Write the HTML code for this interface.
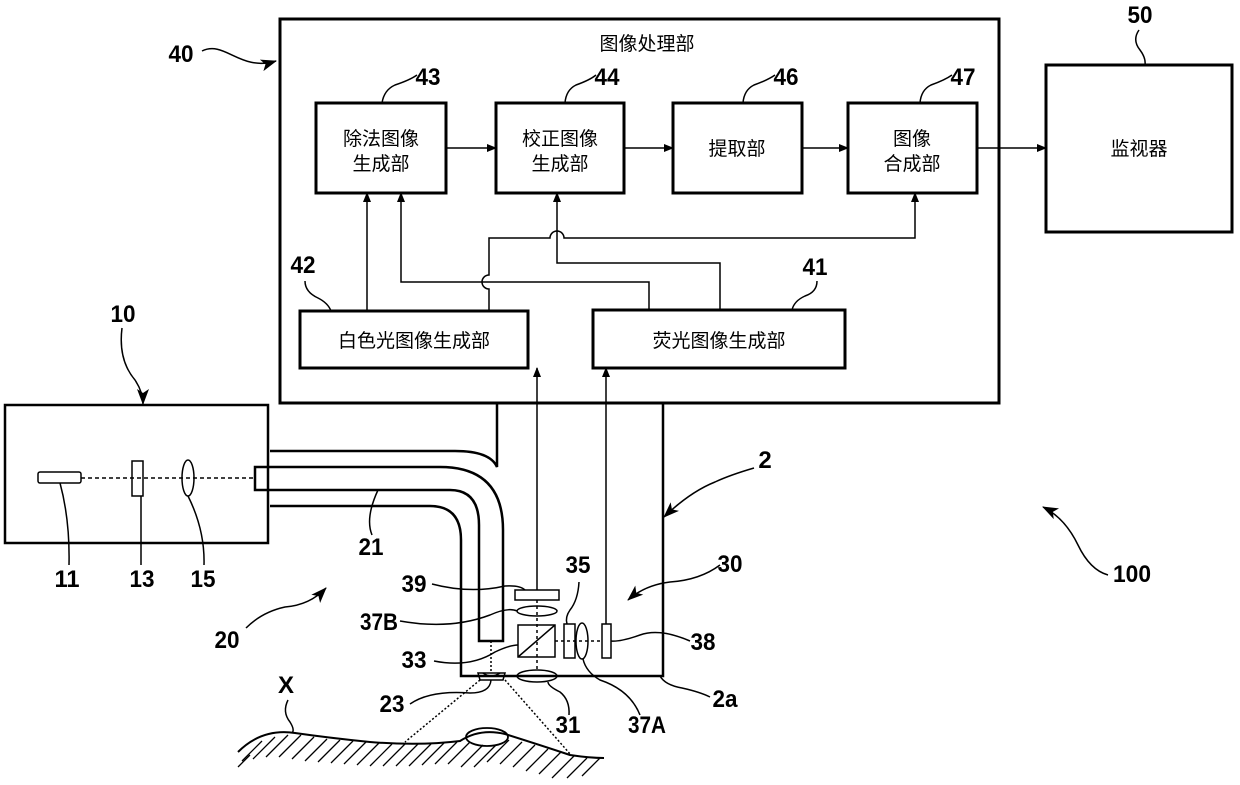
<!DOCTYPE html>
<html><head><meta charset="utf-8"><style>
html,body{margin:0;padding:0;background:#fff;}
svg{display:block;}
.n{font-family:"Liberation Sans",sans-serif;font-size:24px;font-weight:bold;fill:#000;}
.c{font-family:"Liberation Sans","Noto Sans CJK SC",sans-serif;font-size:19px;fill:#000;}
</style></head><body>
<svg width="1240" height="785" viewBox="0 0 1240 785" xmlns="http://www.w3.org/2000/svg">
<defs>
<marker id="a" markerWidth="10" markerHeight="10" refX="9" refY="5" orient="auto" markerUnits="userSpaceOnUse"><path d="M0,1 L10,5 L0,9 Z" fill="#000"/></marker>
<marker id="b" markerWidth="16" markerHeight="14" refX="15" refY="7" orient="auto" markerUnits="userSpaceOnUse"><path d="M0,1 L16,7 L0,13 L4,7 Z" fill="#000"/></marker>
</defs>
<g fill="none" stroke="#000">
<rect x="280" y="19" width="719" height="384" stroke-width="3"/>
<rect x="316" y="103" width="130" height="90" stroke-width="3"/>
<rect x="496" y="103" width="128" height="90" stroke-width="3"/>
<rect x="673" y="103" width="129" height="90" stroke-width="3"/>
<rect x="848" y="103" width="129" height="90" stroke-width="3"/>
<rect x="300" y="311" width="228" height="57" stroke-width="3"/>
<rect x="593" y="310" width="252" height="58" stroke-width="3"/>
<rect x="1046" y="65" width="186" height="167" stroke-width="3"/>
<rect x="5" y="405" width="263" height="138" stroke-width="2.5"/>
<g stroke-width="1.5">
<line x1="446" y1="148" x2="496" y2="148" marker-end="url(#a)"/>
<line x1="624" y1="148" x2="673" y2="148" marker-end="url(#a)"/>
<line x1="802" y1="148" x2="848" y2="148" marker-end="url(#a)"/>
<line x1="977" y1="148" x2="1046" y2="148" marker-end="url(#a)"/>
<line x1="367" y1="311" x2="367" y2="193" marker-end="url(#a)"/>
<path d="M649,310 V282 H401 V193" marker-end="url(#a)"/>
<path d="M489,311 V289 A7,7 0 0 1 489,275 V238 H550 A7,7 0 0 1 564,238 H915 V193" marker-end="url(#a)"/>
<path d="M720,310 V263 H557 V193" marker-end="url(#a)"/>
<line x1="537" y1="590" x2="537" y2="368" marker-end="url(#a)"/>
<line x1="606" y1="624" x2="606" y2="368" marker-end="url(#a)"/>
</g>
<g stroke-width="2.5">
<path d="M497,403 V467 Q490,451 455,451 H270"/>
<path d="M270,506 H430 Q461,506 461,540 V676 H663 V403"/>
<path d="M255,467 H440 Q503,467 503,530 V641 H479 V525 Q479,490 450,490 H255 Z"/>
</g>
<g stroke-width="1.5">
<rect x="38" y="472" width="43" height="11" rx="2"/>
<rect x="132" y="461" width="11" height="35"/>
<ellipse cx="188" cy="478" rx="6" ry="18"/>
<line x1="81" y1="478" x2="255" y2="478" stroke-dasharray="4,3"/>
<rect x="515" y="590" width="44" height="10"/>
<ellipse cx="537" cy="611" rx="20" ry="5"/>
<rect x="518" y="625" width="37" height="32"/>
<line x1="518" y1="657" x2="555" y2="625"/>
<rect x="564" y="624" width="11" height="34"/>
<ellipse cx="582" cy="641" rx="6" ry="18"/>
<rect x="602" y="624" width="9" height="34"/>
<ellipse cx="537" cy="676" rx="20" ry="6"/>
<path d="M478,673 H505 L503,680 H480 Z"/>
<path d="M483,673 Q491,679 500,673"/>
<line x1="537" y1="600" x2="537" y2="670" stroke-dasharray="3,3"/>
<line x1="555" y1="641" x2="602" y2="641" stroke-dasharray="3,3"/>
<line x1="491" y1="641" x2="491" y2="673" stroke-dasharray="2,2"/>
<line x1="480" y1="680" x2="405" y2="742" stroke-dasharray="2,2"/>
<line x1="505" y1="680" x2="571" y2="755" stroke-dasharray="2,2"/>
</g>
<path d="M238,752 Q262,728 295,733 Q330,738 370,742 Q420,746 460,741 Q480,728 505,734 Q540,745 570,755 Q590,758 604,758" stroke-width="2"/>
<ellipse cx="487" cy="737" rx="21" ry="9" stroke-width="1.8"/>
<g stroke-width="1.3">
<path d="M250,755l-12,12M262,741l-20,20M275,737l-22,22M288,735l-22,22M301,735l-22,22M314,737l-22,22M327,739l-22,22M340,740l-22,22M353,741l-22,22M366,742l-22,22M379,743l-22,22M392,744l-22,22M405,744l-22,22M418,744l-22,22M431,744l-22,22M444,743l-22,22M457,742l-22,22M470,742l-22,22M483,745l-22,22M496,745l-22,22M509,740l-22,22M522,742l-22,22M535,745l-22,22M548,749l-22,22M561,752l-22,22M574,756l-22,22M587,758l-20,20M600,758l-18,18"/>
</g>
<g stroke-width="1.5">
<path d="M202,51 C225,40 240,72 276,61" marker-end="url(#b)"/>
<path d="M122,328 Q118,360 135,380 Q143,392 143,404" marker-end="url(#b)"/>
<path d="M1139,30 Q1132,40 1140,50 Q1146,58 1145,65"/>
<path d="M417,75 Q410,80 395,85 Q384,90 382,103"/>
<path d="M596,75 Q590,80 576,85 Q566,90 565,103"/>
<path d="M775,75 Q768,80 754,85 Q744,90 743,103"/>
<path d="M952,75 Q945,80 931,85 Q921,90 920,103"/>
<path d="M305,281 Q305,292 318,298 Q328,303 331,311"/>
<path d="M817,281 Q817,292 805,296 Q794,301 792,310"/>
<path d="M754,468 Q730,475 715,482 Q690,492 664,517" marker-end="url(#b)"/>
<path d="M720,565 Q700,580 670,582 Q645,585 628,600" marker-end="url(#b)"/>
<path d="M1108,575 Q1090,570 1078,545 Q1065,518 1043,507" marker-end="url(#b)"/>
<path d="M246,628 Q262,612 285,607 Q310,605 326,588" marker-end="url(#b)"/>
<path d="M69,565 Q70,520 60,483"/>
<path d="M141,565 V496"/>
<path d="M204,565 Q205,530 188,496"/>
<path d="M372,535 Q365,518 378,490"/>
<path d="M432,584 Q470,594 505,586 Q520,585 525,590"/>
<path d="M400,621 Q450,630 490,615 Q508,607 517,611"/>
<path d="M434,661 Q470,668 495,652 Q510,645 518,645"/>
<path d="M410,704 Q430,690 470,693 Q490,693 491,680"/>
<path d="M579,582 Q578,600 570,610 Q565,617 567,624"/>
<path d="M690,641 Q660,628 640,635 Q620,642 611,641"/>
<path d="M569,715 Q570,700 560,692 Q548,686 548,682"/>
<path d="M640,715 Q630,690 600,680 Q586,672 583,659"/>
<path d="M710,697 Q700,692 682,688 Q665,685 660,676"/>
<path d="M288,700 Q282,712 290,722 Q295,730 292,733"/>
</g>
</g>
<text class="c" x="647" y="50" text-anchor="middle">图像处理部</text>
<text class="c" x="381" y="145" text-anchor="middle">除法图像</text>
<text class="c" x="381" y="170" text-anchor="middle">生成部</text>
<text class="c" x="560" y="145" text-anchor="middle">校正图像</text>
<text class="c" x="560" y="170" text-anchor="middle">生成部</text>
<text class="c" x="737" y="155" text-anchor="middle">提取部</text>
<text class="c" x="912" y="145" text-anchor="middle">图像</text>
<text class="c" x="912" y="170" text-anchor="middle">合成部</text>
<text class="c" x="414" y="347" text-anchor="middle">白色光图像生成部</text>
<text class="c" x="719" y="347" text-anchor="middle">荧光图像生成部</text>
<text class="c" x="1139" y="155" text-anchor="middle">监视器</text>
<g class="n" text-anchor="middle" lengthAdjust="spacingAndGlyphs">
<text x="181" y="62" textLength="25" lengthAdjust="spacingAndGlyphs">40</text>
<text x="1140" y="23" textLength="25" lengthAdjust="spacingAndGlyphs">50</text>
<text x="428" y="85" textLength="25" lengthAdjust="spacingAndGlyphs">43</text>
<text x="607" y="85" textLength="25" lengthAdjust="spacingAndGlyphs">44</text>
<text x="786" y="85" textLength="25" lengthAdjust="spacingAndGlyphs">46</text>
<text x="963" y="85" textLength="25" lengthAdjust="spacingAndGlyphs">47</text>
<text x="303" y="273" textLength="25" lengthAdjust="spacingAndGlyphs">42</text>
<text x="815" y="275" textLength="25" lengthAdjust="spacingAndGlyphs">41</text>
<text x="123" y="322" textLength="25" lengthAdjust="spacingAndGlyphs">10</text>
<text x="765" y="468">2</text>
<text x="730" y="572" textLength="25" lengthAdjust="spacingAndGlyphs">30</text>
<text x="1132" y="582" textLength="38" lengthAdjust="spacingAndGlyphs">100</text>
<text x="227" y="648" textLength="25" lengthAdjust="spacingAndGlyphs">20</text>
<text x="371" y="555" textLength="25" lengthAdjust="spacingAndGlyphs">21</text>
<text x="67" y="587" textLength="25" lengthAdjust="spacingAndGlyphs">11</text>
<text x="142" y="587" textLength="25" lengthAdjust="spacingAndGlyphs">13</text>
<text x="203" y="587" textLength="25" lengthAdjust="spacingAndGlyphs">15</text>
<text x="414" y="592" textLength="25" lengthAdjust="spacingAndGlyphs">39</text>
<text x="379" y="630" textLength="38" lengthAdjust="spacingAndGlyphs">37B</text>
<text x="414" y="668" textLength="25" lengthAdjust="spacingAndGlyphs">33</text>
<text x="392" y="712" textLength="25" lengthAdjust="spacingAndGlyphs">23</text>
<text x="578" y="573" textLength="25" lengthAdjust="spacingAndGlyphs">35</text>
<text x="703" y="650" textLength="25" lengthAdjust="spacingAndGlyphs">38</text>
<text x="568" y="733" textLength="25" lengthAdjust="spacingAndGlyphs">31</text>
<text x="647" y="733" textLength="38" lengthAdjust="spacingAndGlyphs">37A</text>
<text x="725" y="707" textLength="25" lengthAdjust="spacingAndGlyphs">2a</text>
<text x="286" y="693">X</text>
</g>
</svg>
</body></html>
